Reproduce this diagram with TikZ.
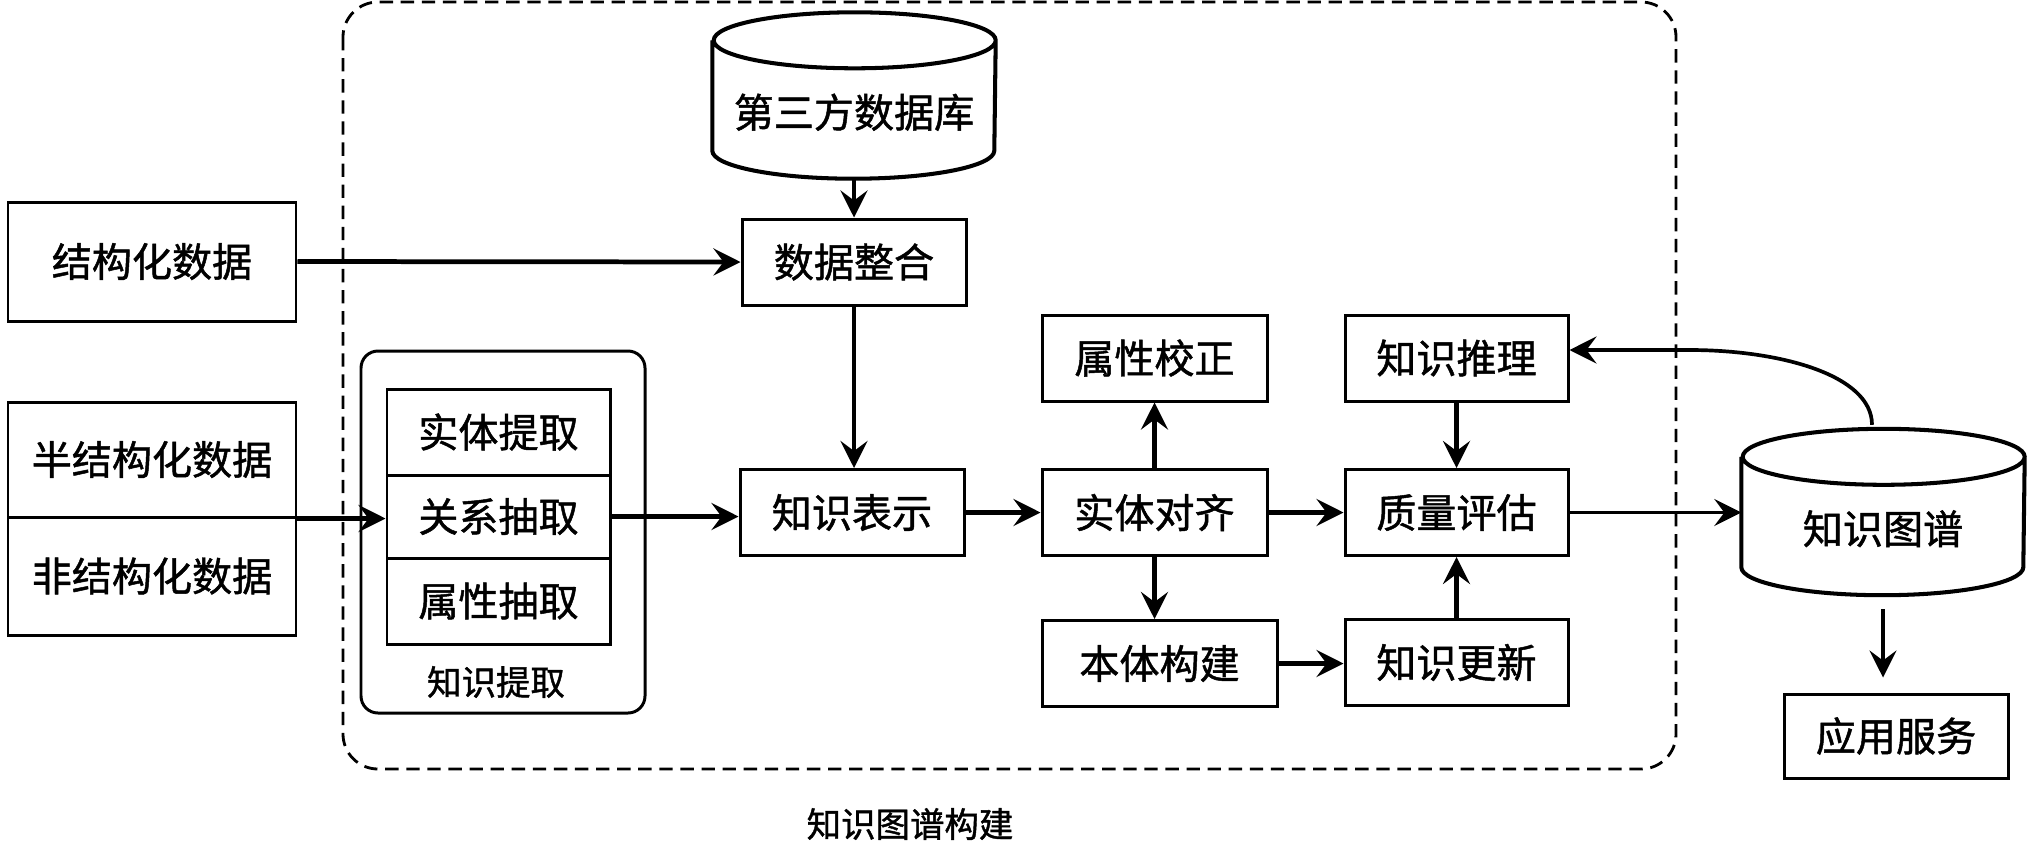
\documentclass[tikz,border=0pt]{standalone}
\usepackage{fontspec}
\newfontfamily\cjk[FakeBold=1.2]{Noto Sans CJK SC}
\usetikzlibrary{calc,arrows.meta,backgrounds}
\pgfdeclarehorizontalshading{dbglow}{100bp}{color(0bp)=(black!55); color(5bp)=(black!15); color(11bp)=(white); color(89bp)=(white); color(95bp)=(black!15); color(100bp)=(black!55)}
\pgfdeclareradialshading{dbtop}{\pgfpoint{0bp}{0bp}}{color(0bp)=(white); color(40bp)=(white); color(50bp)=(black!35)}
\def\dbdrum(#1)(#2:#3){%
	\begin{scope}[on background layer]
		\shade[shading=dbglow] ($(#1.north west)+(0,-#3)$) -- ($(#1.south west)+(0,#3)$) arc (180:360:#2 and #3) -- ($(#1.north east)+(0,-#3)$) arc (0:180:#2 and #3) -- cycle;
		\shade[shading=dbtop] ($(#1.north)+(0,-#3)$) ellipse (#2 and #3);
		\draw[line width=1.15pt] ($(#1.north west)+(0,-#3)$) -- ($(#1.south west)+(0,#3)$) arc (180:360:#2 and #3) -- ($(#1.north east)+(0,-#3)$) arc (0:180:#2 and #3) arc (180:360:#2 and #3);
	\end{scope}}

\begin{document}
\begin{tikzpicture}[
		box/.style={draw, line width=0.85pt, minimum width=2.24cm, minimum height=0.86cm, inner sep=0pt, font=\cjk\fontsize{11.4}{13}\selectfont},
		srcbox/.style={box, minimum width=2.88cm},
		dbtext/.style={minimum width=2.82cm, minimum height=1.65cm, inner sep=0pt, text height=0.74cm, text depth=0.1cm, font=\cjk\fontsize{11.4}{13}\selectfont},
		groupbox/.style={draw, line width=0.85pt, rounded corners=0.17cm, minimum width=2.84cm, minimum height=3.62cm},
		smalltext/.style={font=\cjk\fontsize{9.8}{12}\selectfont},
		flow/.style={line width=1.35pt, -{Stealth[length=2.7mm, width=2.7mm, inset=1mm]}},
		flowthin/.style={flow, line width=1.05pt}]
			%%%%% START %%%%%
			
			\useasboundingbox (0, 0) rectangle (20.32, -8.54);
			
			\draw[line width=0.8pt, dash pattern=on 3.8pt off 2.2pt, rounded corners=0.35cm] (3.43, -0.02) rectangle (16.76, -7.69);
			\node[smalltext] (kgbuild) at (9.1, -8.24) {知识图谱构建};
			
			\node[srcbox, minimum height=1.19cm] (struct) at (1.52, -2.615) {结构化数据};
			\node[srcbox, minimum height=1.15cm] (semi) at (1.52, -4.595) {半结构化数据};
			\node[srcbox, minimum height=1.18cm] (unstruct) at (1.52, -5.76) {非结构化数据};
			
			\node[dbtext] (thirddb) at (8.54, -0.955) {第三方数据库};
			\dbdrum(thirddb)(1.41:0.28)
			\node[box] (merge) at (8.54, -2.62) {数据整合};
			
			\node[groupbox] (extract) at (5.03, -5.32) {};
			\node[box, minimum width=2.23cm] (entity) at (4.985, -4.32) {实体提取};
			\node[box, minimum width=2.23cm, minimum height=0.83cm] (relation) at (4.985, -5.165) {关系抽取};
			\node[box, minimum width=2.23cm] (attribute) at (4.985, -6.01) {属性抽取};
			\node[smalltext] (extractlabel) at (4.96, -6.82) {知识提取};
			
			\node[box] (represent) at (8.52, -5.125) {知识表示};
			\node[box, minimum width=2.25cm] (align) at (11.545, -5.125) {实体对齐};
			\node[box, minimum width=2.25cm] (attrfix) at (11.545, -3.58) {属性校正};
			\node[box, minimum width=2.35cm] (ontology) at (11.595, -6.635) {本体构建};
			
			\node[box, minimum width=2.23cm] (quality) at (14.565, -5.125) {质量评估};
			\node[box, minimum width=2.23cm] (reason) at (14.565, -3.58) {知识推理};
			\node[box, minimum width=2.23cm] (update) at (14.565, -6.625) {知识更新};
			
			\node[dbtext] (kg) at (18.83, -5.12) {知识图谱};
			\dbdrum(kg)(1.41:0.28)
			\node[box, minimum height=0.84cm] (app) at (18.96, -7.36) {应用服务};
			
			\draw[flow] (struct.east) -- (merge.west);
			\draw[flow] (thirddb.south) -- (merge.north);
			\draw[flow] (merge.south) -- (merge.south |- represent.north);
			\draw[flow] (semi.south east) -- (relation.west |- semi.south east);
			\draw[flow] (relation.east) -- (relation.east -| represent.west);
			\draw[flow] (represent.east) -- (align.west);
			\draw[flow] (align.east) -- (quality.west);
			\draw[flow] (align.north) -- (attrfix.south);
			\draw[flow] (align.south) -- (align.south |- ontology.north);
			\draw[flow] (ontology.east) -- (ontology.east -| update.west);
			\draw[flow] (update.north) -- (quality.south);
			\draw[flow] (reason.south) -- (quality.north);
			
			\draw[flowthin] (quality.east) -- (quality.east -| kg.west);
			\draw[flowthin, shorten <=0.14cm, shorten >=0.15cm] (kg.south) -- (kg.south |- app.north);
			\draw[flowthin] ($(kg.north)+(-0.11, 0.04)$) .. controls +(0, 0.5) and +(0.9, 0) .. ($(reason.east)+(1.2, 0.08)$) -- ($(reason.east)+(0, 0.08)$);
			
			%%%%% END %%%%%
		\end{tikzpicture}
\end{document}
